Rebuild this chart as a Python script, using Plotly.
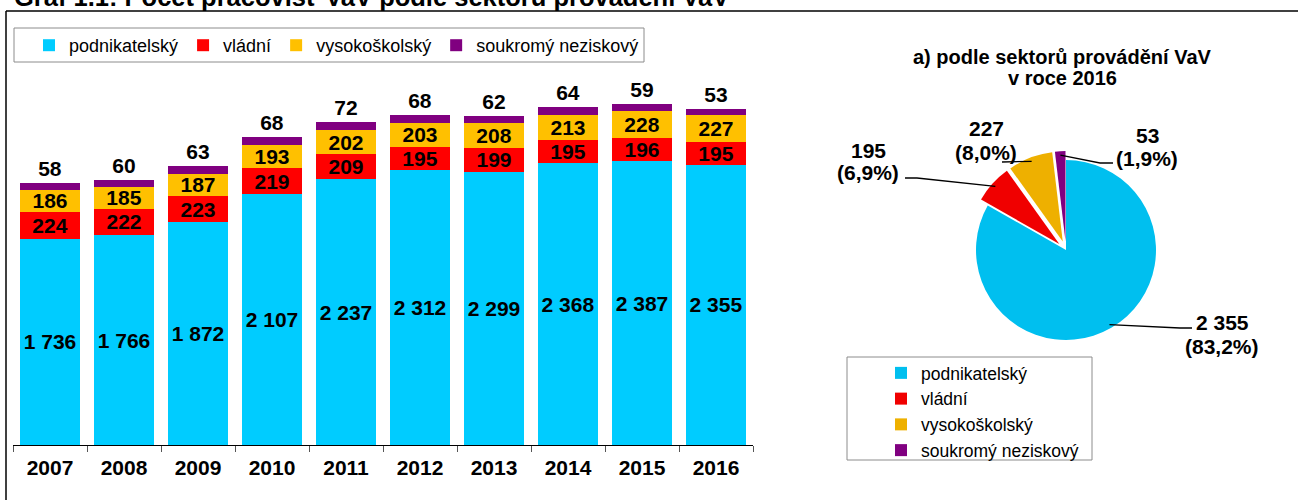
import math
import plotly.graph_objects as go

# ---------------- data ----------------
years = ['2007', '2008', '2009', '2010', '2011', '2012', '2013', '2014', '2015', '2016']
sectors = ['podnikatelský', 'vládní', 'vysokoškolský', 'soukromý neziskový']
podnikatelsky = [1736, 1766, 1872, 2107, 2237, 2312, 2299, 2368, 2387, 2355]
vladni = [224, 222, 223, 219, 209, 195, 199, 195, 196, 195]
vysokoskolsky = [186, 185, 187, 193, 202, 203, 208, 213, 228, 227]
soukromy = [58, 60, 63, 68, 72, 68, 62, 64, 59, 53]
pie_values = [podnikatelsky[-1], vladni[-1], vysokoskolsky[-1], soukromy[-1]]

colors = ['#00CCFF', '#FF0000', '#FFC000', '#800080']
pie_colors = ['#00BFEF', '#F00000', '#EEB000', '#800080']

W, H = 1298, 500
FONT = 'Liberation Sans, Arial, sans-serif'


def px(x):
    return x / W


def py(y):
    return 1 - y / H


def fmt(v):
    return f"{v:,}".replace(',', ' ')


fig = go.Figure()

series = [podnikatelsky, vladni, vysokoskolsky, soukromy]
for i, (name, vals) in enumerate(zip(sectors, series)):
    fig.add_trace(go.Bar(
        x=years, y=vals, name=name,
        marker=dict(color=colors[i], line=dict(width=0)),
        text=[fmt(v) for v in vals], texttemplate='%{text}',
        textposition='outside' if i == 3 else 'inside',
        insidetextanchor='middle', textangle=0, constraintext='none',
        textfont=dict(family=FONT, size=21, color='black', weight='bold'),
        outsidetextfont=dict(family=FONT, size=21, color='black', weight='bold'),
        cliponaxis=False, legend='legend', hoverinfo='skip',
    ))

# pie
pull = [0, 0.1, 0.1, 0.1]
cx, cy, r = 1066, 250, 90
R_dom = r * (1 + max(pull))
fig.add_trace(go.Pie(
    labels=sectors, values=pie_values, sort=False, direction='clockwise', rotation=0,
    marker=dict(colors=pie_colors, line=dict(width=0)), pull=pull,
    textinfo='none', hoverinfo='skip', legend='legend2',
    domain=dict(x=[px(cx - R_dom), px(cx + R_dom)], y=[py(cy + R_dom), py(cy - R_dom)]),
))

# ---------------- pie labels and leader lines ----------------
total = sum(pie_values)
label_pos = [(1222, 322, 346), (868, 150, 172), (986, 128, 152), (1147, 135, 158)]
leader_start = [[(1192, 328), (1180, 328)], [(905, 178), (917, 178)],
                [(1002, 162)], [(1113, 163), (1100, 163)]]
annotations = []
shapes = []
cum = 0
for i, v in enumerate(pie_values):
    mid = (cum + v / 2) / total * 2 * math.pi
    cum += v
    rr = r * (1 + pull[i]) * 0.96
    ex, ey = cx + rr * math.sin(mid), cy - rr * math.cos(mid)
    lx, ly1, ly2 = label_pos[i]
    pct = f"({v / total * 100:.1f}%)".replace('.', ',')
    for txt, yy in ((fmt(v), ly1), (pct, ly2)):
        annotations.append(dict(x=px(lx), y=py(yy), xref='paper', yref='paper', text=f'<b>{txt}</b>',
                                showarrow=False, xanchor='center', yanchor='middle',
                                font=dict(family=FONT, size=21, color='black')))
    pts = leader_start[i] + [(ex, ey)]
    path = 'M ' + ' L '.join(f'{px(a):.5f},{py(b):.5f}' for a, b in pts)
    shapes.append(dict(type='path', path=path, xref='paper', yref='paper',
                       line=dict(color='black', width=1.3)))

# titles
annotations.append(dict(x=px(12), y=py(13), xref='paper', yref='paper', xanchor='left', yanchor='bottom',
                        text='<b>Graf 1.1: Počet pracovišť VaV podle sektorů provádění VaV</b>',
                        showarrow=False, font=dict(family=FONT, size=25.5, color='black')))
annotations.append(dict(x=px(1062), y=py(57), xref='paper', yref='paper', showarrow=False,
                        xanchor='center', yanchor='middle',
                        text='<b>a) podle sektorů provádění VaV</b>',
                        font=dict(family=FONT, size=20, color='black')))
annotations.append(dict(x=px(1062), y=py(78), xref='paper', yref='paper', showarrow=False,
                        xanchor='center', yanchor='middle',
                        text='<b>v roce 2016</b>',
                        font=dict(family=FONT, size=20, color='black')))

# frame and legend boxes
shapes += [
    dict(type='line', xref='paper', yref='paper', x0=px(6), x1=1.01, y0=py(11), y1=py(11),
         line=dict(color='black', width=1.5)),
    dict(type='line', xref='paper', yref='paper', x0=px(6), x1=px(6), y0=py(11), y1=-0.05,
         line=dict(color='black', width=1.5)),
    dict(type='rect', xref='paper', yref='paper', x0=px(14), x1=px(644), y0=py(28), y1=py(62),
         line=dict(color='#8C8C8C', width=1)),
    dict(type='rect', xref='paper', yref='paper', x0=px(847), x1=px(1092), y0=py(357), y1=py(460),
         line=dict(color='#8C8C8C', width=1)),
]

fig.update_layout(
    width=W, height=H, margin=dict(l=0, r=0, t=0, b=0),
    paper_bgcolor='white', plot_bgcolor='white',
    barmode='stack', bargap=0.2, separators=', ',
    font=dict(family=FONT, color='black'),
    uniformtext=dict(minsize=21, mode='show'),
    xaxis=dict(domain=[px(13), px(753)], showline=True, linecolor='black', linewidth=1,
               ticks='outside', tickson='boundaries', ticklen=6, tickcolor='#555555',
               ticklabelstandoff=4,
               tickfont=dict(family=FONT, size=21, color='black', weight='bold'),
               showgrid=False, fixedrange=True),
    yaxis=dict(domain=[py(445), 1], range=[0, 445 / 0.1189], visible=False, fixedrange=True),
    legend=dict(orientation='h', x=px(29), xanchor='left', y=py(27), yanchor='top',
                font=dict(family=FONT, size=18, color='black'), bgcolor='rgba(0,0,0,0)',
                borderwidth=0, itemwidth=30, traceorder='normal'),
    legend2=dict(orientation='v', x=px(881), xanchor='left', y=py(355), yanchor='top',
                 font=dict(family=FONT, size=17.5, color='black'), bgcolor='rgba(0,0,0,0)',
                 borderwidth=0, itemwidth=30),
    annotations=annotations, shapes=shapes, showlegend=True,
)

fig.write_html('out.html', config={'displayModeBar': False},
               post_script="document.body.style.margin='0';document.body.style.overflow='hidden';")
